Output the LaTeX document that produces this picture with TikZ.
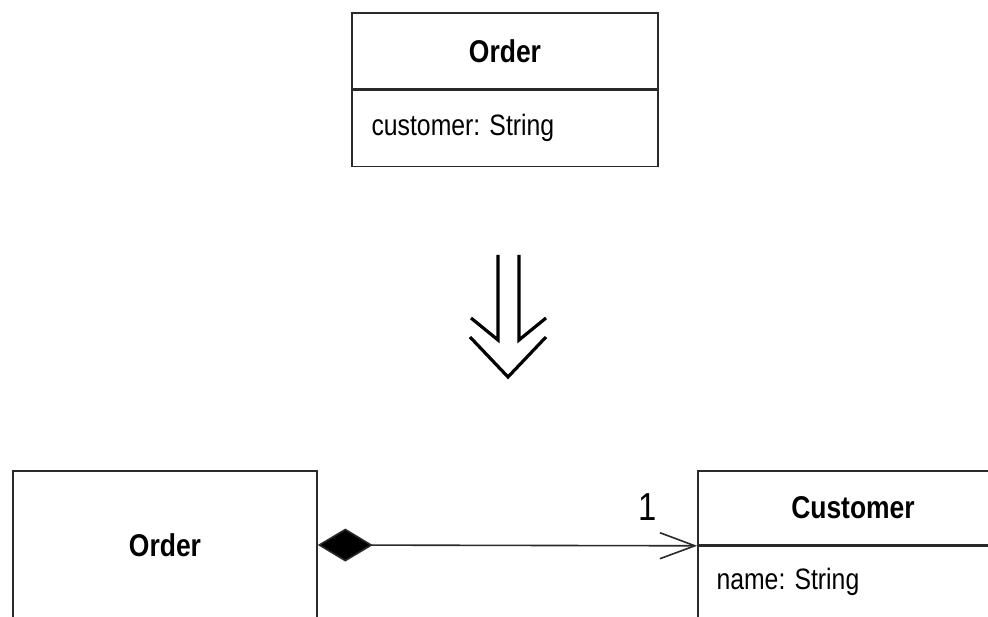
\documentclass[tikz,border=0pt]{standalone}
\usepackage{fontspec}
\setmainfont{Liberation Sans}[FakeStretch=0.84]
\usetikzlibrary{arrows.meta}
\definecolor{ink}{HTML}{2A2A2A}
\tikzset{
  box/.style={draw=ink, line width=1.6pt, rectangle, inner sep=0pt},
  title/.style={font=\fontsize{31.5}{31.5}\selectfont\bfseries},
  attr/.style={font=\fontsize{29.5}{29.5}\selectfont},
  conn/.style={draw=ink, line width=1.6pt},
  bigarrow/.style={draw=black, line width=3.2pt}
}
\begin{document}
\begin{tikzpicture}[x=1pt,y=-1pt]
\useasboundingbox (0,0) rectangle (988,617);
\clip (0,0) rectangle (988,617);
% top class
\node[box, minimum width=306pt, minimum height=76pt, title] (th) at (505,51) {Order};
\node[box, minimum width=306pt, minimum height=76pt, anchor=north] (ta) at (th.south) {};
\node[attr, anchor=west] (tat) at (368,128) {customer: String};
% transformation arrow
\draw[bigarrow] (498,255) -- (498,340) -- (471,318);
\draw[bigarrow] (519,255) -- (519,340) -- (546,318);
\draw[bigarrow] (470,337) -- (508,377) -- (546,337);
% bottom classes
\node[box, minimum width=304pt, minimum height=148pt, title] (ob) at (165,545) {Order};
\node[box, minimum width=310pt, minimum height=74pt, title] (ch) at (853,508) {Customer};
\node[box, minimum width=310pt, minimum height=76pt, anchor=north] (ca) at (ch.south) {};
\node[attr, anchor=west] (cat) at (713,582) {name: String};
% composition
\draw[conn, {Diamond[length=55pt,width=33pt,fill=black]}-{Straight Barb[length=35pt,width=26pt,line width=1.6pt]}]
  (ob.east) -- (ch.south west);
\node[font=\fontsize{39}{39}\selectfont] (m1) at (648,507) {1};
\end{tikzpicture}
\end{document}
